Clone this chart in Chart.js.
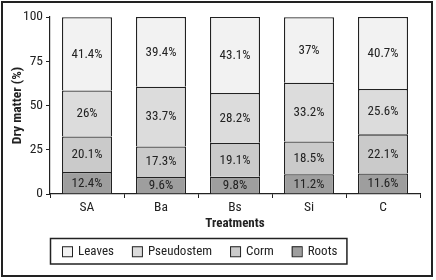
<!DOCTYPE html>
<html>
<head>
<meta charset="utf-8">
<script src="https://cdn.jsdelivr.net/npm/chart.js@4.4.0/dist/chart.umd.min.js"></script>
<style>
  html, body { margin: 0; padding: 0; background: #fff; }
</style>
</head>
<body>
<canvas id="dry-chart" width="436" height="280"></canvas>
<script>
// dry matter share per plant part (%)
const treatments = ["SA", "Ba", "Bs", "Si", "C"];
const roots = [12.4, 9.6, 9.8, 11.2, 11.6];
const corm = [20.1, 17.3, 19.1, 18.5, 22.1];
const pseudostem = [26, 33.7, 28.2, 33.2, 25.6];
const leaves = [41.4, 39.4, 43.1, 37, 40.7];
const yTicks = [0, 25, 50, 75, 100];

const fontFam = "'Roboto Condensed', 'Liberation Sans Narrow', sans-serif";
const ink = '#222';

Chart.defaults.font.family = fontFam;
Chart.defaults.color = ink;

// labels inside each segment
const barLabels = {
    id: 'barLabels',
    afterDatasetsDraw(chart) {
        const ctx = chart.ctx;
        ctx.save();
        ctx.font = "13px " + fontFam;
        ctx.fillStyle = ink;
        ctx.textAlign = 'center';
        ctx.textBaseline = 'middle';
        chart.data.datasets.forEach((ds, i) => {
            chart.getDatasetMeta(i).data.forEach((bar, j) => {
                ctx.fillText(ds.data[j] + '%', bar.x, (bar.y + bar.base) / 2 + 0.5);
            });
        });
        ctx.restore();
    }
};

// boxed legend under the plot + outer frame
const boxLegend = {
    id: 'boxLegend',
    afterDraw(chart) {
        const ctx = chart.ctx;
        const left = chart.chartArea.left;
        const top = 238.5, h = 25.5, cy = top + h / 2;
        ctx.save();
        ctx.font = "13px " + fontFam;
        ctx.textBaseline = 'middle';
        ctx.textAlign = 'left';
        let x = left + 12;
        const order = chart.data.datasets.map((d, i) => i).reverse();
        order.forEach((i, k) => {
            const ds = chart.data.datasets[i];
            ctx.fillStyle = ds.backgroundColor;
            ctx.fillRect(x, cy - 5, 10, 10);
            ctx.strokeStyle = ink;
            ctx.lineWidth = 1;
            ctx.strokeRect(x + 0.5, cy - 4.5, 10, 10);
            x += 16;
            ctx.fillStyle = ink;
            ctx.fillText(ds.label, x, cy + 0.5);
            x += ctx.measureText(ds.label).width;
            if (k < order.length - 1) x += 18;
        });
        ctx.lineWidth = 1.5;
        ctx.strokeStyle = ink;
        ctx.strokeRect(left + 0.5, top, x + 9 - left, h);

        ctx.lineWidth = 2;
        ctx.strokeRect(2, 2, 430, 274);
        ctx.restore();
    }
};

new Chart(document.getElementById("dry-chart"), {
    type: 'bar',
    data: {
        labels: treatments,
        datasets: [{
            label: 'Roots',
            data: roots,
            backgroundColor: '#9e9e9e'
        }, {
            label: 'Corm',
            data: corm,
            backgroundColor: '#cacaca'
        }, {
            label: 'Pseudostem',
            data: pseudostem,
            backgroundColor: '#dcdcdc'
        }, {
            label: 'Leaves',
            data: leaves,
            backgroundColor: '#f2f2f2'
        }]
    },
    options: {
        responsive: false,
        animation: false,
        events: [],
        categoryPercentage: 1,
        barPercentage: 50 / 74,
        datasets: {
            bar: { borderColor: ink, borderWidth: 1.3, borderSkipped: 'start' }
        },
        layout: { padding: { top: 17, right: 16, bottom: 48, left: 0 } },
        plugins: {
            legend: { display: false },
            tooltip: { enabled: false }
        },
        scales: {
            x: {
                stacked: true,
                grid: { drawOnChartArea: false, drawTicks: true, tickLength: 4, color: ink, offset: true },
                border: { color: ink, width: 1.2 },
                ticks: { font: { size: 13.5 }, padding: 2, maxRotation: 0 },
                title: { display: true, text: 'Treatments', font: { size: 13, weight: 'bold' }, padding: 0 },
                afterFit: s => { s.height = 38; }
            },
            y: {
                stacked: true,
                min: 0,
                max: 100,
                afterBuildTicks: s => { s.ticks = yTicks.map(v => ({ value: v })); },
                grid: { drawOnChartArea: false, drawTicks: true, tickLength: 4, color: ink },
                border: { color: ink, width: 1.2 },
                ticks: { font: { size: 13.5 }, padding: 3 },
                title: { display: true, text: 'Dry matter (%)', font: { size: 13.5, weight: 'bold' }, padding: { top: 10, bottom: 0 } },
                afterFit: s => { s.width = 50; }
            }
        }
    },
    plugins: [barLabels, boxLegend]
});
</script>
</body>
</html>
